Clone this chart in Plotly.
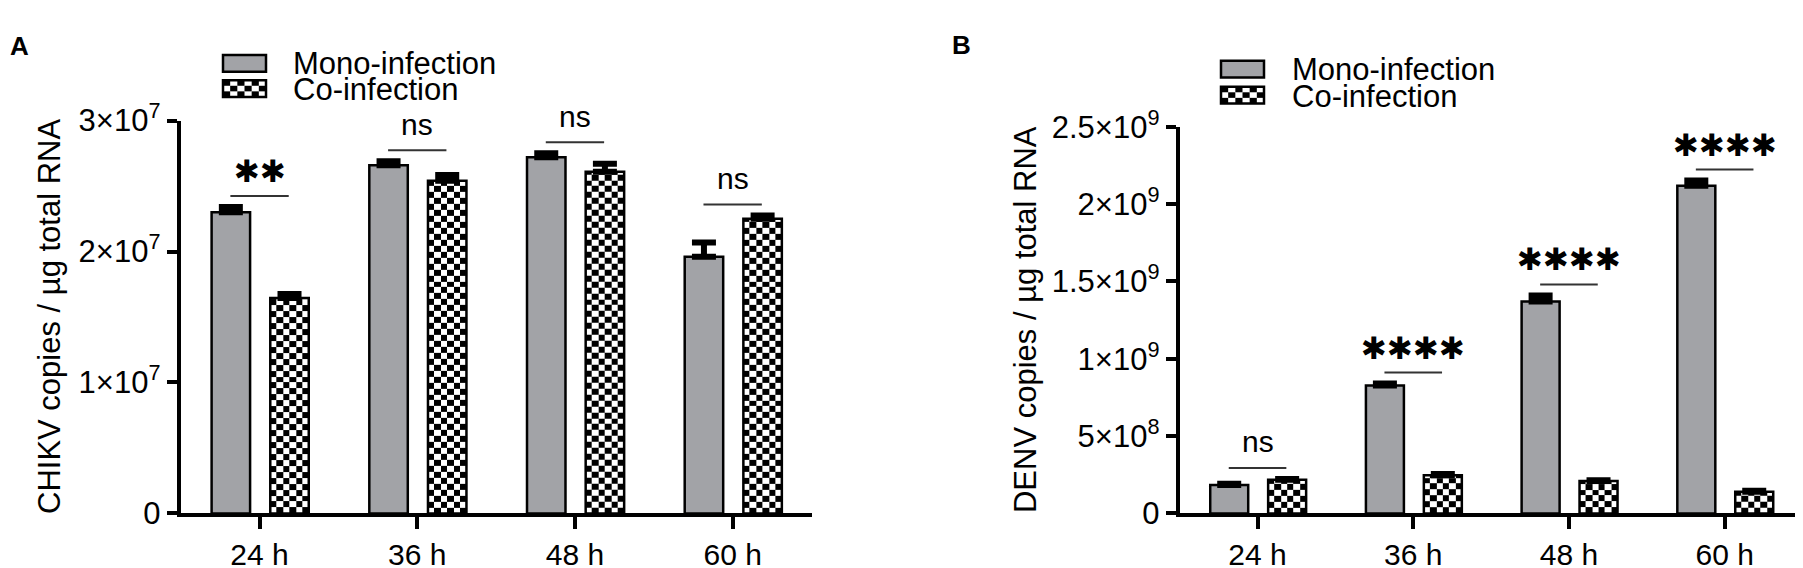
import numpy as np
import plotly.graph_objects as go

# ---------------- data ----------------
categories = ["24 h", "36 h", "48 h", "60 h"]

chikv_mono = [2.30e7, 2.66e7, 2.72e7, 1.96e7]
chikv_mono_err = [0.04e7, 0.03e7, 0.03e7, 0.11e7]
chikv_co = [1.645e7, 2.54e7, 2.61e7, 2.25e7]
chikv_co_err = [0.03e7, 0.045e7, 0.06e7, 0.025e7]
chikv_sig = ["**", "ns", "ns", "ns"]

denv_mono = [0.183e9, 0.827e9, 1.370e9, 2.118e9]
denv_mono_err = [0.008e9, 0.012e9, 0.039e9, 0.034e9]
denv_co = [0.217e9, 0.247e9, 0.209e9, 0.140e9]
denv_co_err = [0.006e9, 0.008e9, 0.005e9, 0.006e9]
denv_sig = ["ns", "****", "****", "****"]

chikv_tickvals = [0, 1e7, 2e7, 3e7]
chikv_ticktext = ["0", "1×10<sup>7</sup>", "2×10<sup>7</sup>", "3×10<sup>7</sup>"]
denv_tickvals = [0, 5e8, 1e9, 1.5e9, 2e9, 2.5e9]
denv_ticktext = ["0", "5×10<sup>8</sup>", "1×10<sup>9</sup>", "1.5×10<sup>9</sup>",
                 "2×10<sup>9</sup>", "2.5×10<sup>9</sup>"]

series_names = ["Mono-infection", "Co-infection"]
chikv_title = "CHIKV copies / µg total RNA"
denv_title = "DENV copies / µg total RNA"

# ---------------- style ----------------
W, H = 1803, 568
FONT = "Liberation Sans, Arial, Helvetica, sans-serif"
GRAY = "#a2a3a7"
BAR_W = 0.244
MONO_OFF = -0.304
CO_OFF = 0.068
CHECK_COLS = 6
CELL_PX = 6.4
Y0_PX = 520.0          # pixel row of the zero line

panels = [
    dict(key="", mono=chikv_mono, mono_err=chikv_mono_err, co=chikv_co, co_err=chikv_co_err,
         sig=chikv_sig, tv=chikv_tickvals, tt=chikv_ticktext, ymax=3e7,
         x0px=172.7, x1px=803.5, ytop_px=97.5, title=chikv_title, title_x=41,
         letter="A", letter_xy=(11, 17), leg_x=215, leg_y=(27, 54), leg_tx=283, leg_ty=(36, 64)),
    dict(key="2", mono=denv_mono, mono_err=denv_mono_err, co=denv_co, co_err=denv_co_err,
         sig=denv_sig, tv=denv_tickvals, tt=denv_ticktext, ymax=2.5e9,
         x0px=1171.7, x1px=1794.5, ytop_px=104.0, title=denv_title, title_x=1017,
         letter="B", letter_xy=(953, 16), leg_x=1213, leg_y=(33, 61), leg_tx=1282, leg_ty=(43, 71)),
]

fig = go.Figure()
shapes = []
annotations = []
pos = np.arange(len(categories))


def px_x(x):
    return x / W


def px_y(y):
    return 1 - y / H


for p in panels:
    xa = "x" + p["key"]
    ya = "y" + p["key"]
    plot_h = Y0_PX - p["ytop_px"]
    cell_h = CELL_PX * p["ymax"] / plot_h

    # checkerboard fill of co-infection bars (heatmap bricks, drawn first = below bars)
    for i, v in enumerate(p["co"]):
        xe = np.linspace(pos[i] + CO_OFF, pos[i] + CO_OFF + BAR_W, CHECK_COLS + 1)
        ye = np.append(np.arange(0, v, cell_h), v)
        nrows = len(ye) - 1
        z = [[(r + c) % 2 for c in range(CHECK_COLS)] for r in range(nrows)]
        fig.add_trace(go.Heatmap(x=xe, y=ye, z=z, zmin=0, zmax=1,
                                 colorscale=[[0, "white"], [1, "black"]],
                                 showscale=False, hoverinfo="skip",
                                 xaxis=xa, yaxis=ya))

for p in panels:
    xa = "x" + p["key"]
    ya = "y" + p["key"]
    fig.add_trace(go.Bar(x=pos, y=p["mono"], name=series_names[0], offset=MONO_OFF, width=BAR_W,
                         marker=dict(color=GRAY, line=dict(color="black", width=2.5)),
                         error_y=dict(type="data", array=p["mono_err"], arrayminus=[0] * len(pos),
                                      symmetric=False, color="black", thickness=6, width=12),
                         xaxis=xa, yaxis=ya, showlegend=False))
    fig.add_trace(go.Bar(x=pos, y=p["co"], name=series_names[1], offset=CO_OFF, width=BAR_W,
                         marker=dict(color="rgba(0,0,0,0)", line=dict(color="black", width=2.5)),
                         error_y=dict(type="data", array=p["co_err"], arrayminus=[0] * len(pos),
                                      symmetric=False, color="black", thickness=6, width=12),
                         xaxis=xa, yaxis=ya, showlegend=False))

    # significance lines + labels
    for i, s in enumerate(p["sig"]):
        top = max(p["mono"][i] + p["mono_err"][i], p["co"][i] + p["co_err"][i])
        shapes.append(dict(type="line", xref=xa, yref=ya, ysizemode="pixel", yanchor=top,
                           x0=pos[i] - 0.185, x1=pos[i] + 0.185, y0=11, y1=11,
                           line=dict(color="#333333", width=2)))
        star = s.startswith("*")
        annotations.append(dict(xref=xa, yref=ya, x=pos[i], y=top, yshift=37 if not star else 36,
                                text=s.replace("*", "✱") if star else s, showarrow=False,
                                yanchor="middle", xanchor="center",
                                font=dict(family="DejaVu Sans" if star else FONT,
                                          size=31 if star else 30, color="black")))

    # y title
    annotations.append(dict(xref="paper", yref="paper", x=px_x(p["title_x"]),
                            y=px_y((Y0_PX + p["ytop_px"]) / 2), text=p["title"], textangle=-90,
                            showarrow=False, xanchor="center", yanchor="middle",
                            font=dict(family=FONT, size=31, color="black")))
    # panel letter
    annotations.append(dict(xref="paper", yref="paper", x=px_x(p["letter_xy"][0]),
                            y=px_y(p["letter_xy"][1]), text="<b>" + p["letter"] + "</b>",
                            showarrow=False, xanchor="center", yanchor="middle",
                            font=dict(family=FONT, size=26, color="black")))

    # manual legend
    lx0, lx1 = p["leg_x"], p["leg_x"] + 43
    sh = 18
    ly_m, ly_c = p["leg_y"]
    shapes.append(dict(type="rect", xref="paper", yref="paper", x0=px_x(lx0), x1=px_x(lx1),
                       y0=px_y(ly_m + sh), y1=px_y(ly_m), fillcolor=GRAY,
                       line=dict(color="black", width=2.5)))
    shapes.append(dict(type="rect", xref="paper", yref="paper", x0=px_x(lx0), x1=px_x(lx1),
                       y0=px_y(ly_c + sh), y1=px_y(ly_c), fillcolor="white",
                       line=dict(color="black", width=0)))
    ncol, nrow = 6, 3
    cw, chh = (lx1 - lx0) / ncol, sh / nrow
    for r in range(nrow):
        for c in range(ncol):
            if (r + c) % 2 == 0:
                shapes.append(dict(type="rect", xref="paper", yref="paper",
                                   x0=px_x(lx0 + c * cw), x1=px_x(lx0 + (c + 1) * cw),
                                   y0=px_y(ly_c + (r + 1) * chh), y1=px_y(ly_c + r * chh),
                                   fillcolor="black", line=dict(width=0)))
    shapes.append(dict(type="rect", xref="paper", yref="paper", x0=px_x(lx0), x1=px_x(lx1),
                       y0=px_y(ly_c + sh), y1=px_y(ly_c), fillcolor="rgba(0,0,0,0)",
                       line=dict(color="black", width=2.5)))
    for name, ty in zip(series_names, p["leg_ty"]):
        annotations.append(dict(xref="paper", yref="paper", x=px_x(p["leg_tx"]), y=px_y(ty),
                                text=name, showarrow=False, xanchor="left", yanchor="middle",
                                font=dict(family=FONT, size=31, color="black")))

axis_common = dict(showgrid=False, zeroline=False, showline=True, linecolor="black",
                   linewidth=4, ticks="outside", tickcolor="black", tickwidth=4)

layout_axes = {}
for p in panels:
    k = p["key"]
    layout_axes["xaxis" + k] = dict(axis_common, domain=[px_x(p["x0px"]), px_x(p["x1px"])],
                                    range=[-0.5, 3.5], tickvals=pos, ticktext=categories,
                                    ticklen=12, anchor="y" + k,
                                    tickfont=dict(family=FONT, size=30, color="black"))
    layout_axes["yaxis" + k] = dict(axis_common, domain=[px_y(Y0_PX), px_y(p["ytop_px"])],
                                    range=[0, p["ymax"]], tickvals=p["tv"], ticktext=p["tt"],
                                    ticklen=10, anchor="x" + k,
                                    tickfont=dict(family=FONT, size=31, color="black"))

fig.update_layout(width=W, height=H, margin=dict(l=0, r=0, t=0, b=0),
                  paper_bgcolor="white", plot_bgcolor="white", barmode="overlay",
                  showlegend=False, shapes=shapes, annotations=annotations, **layout_axes)

fig.write_html("out.html")
